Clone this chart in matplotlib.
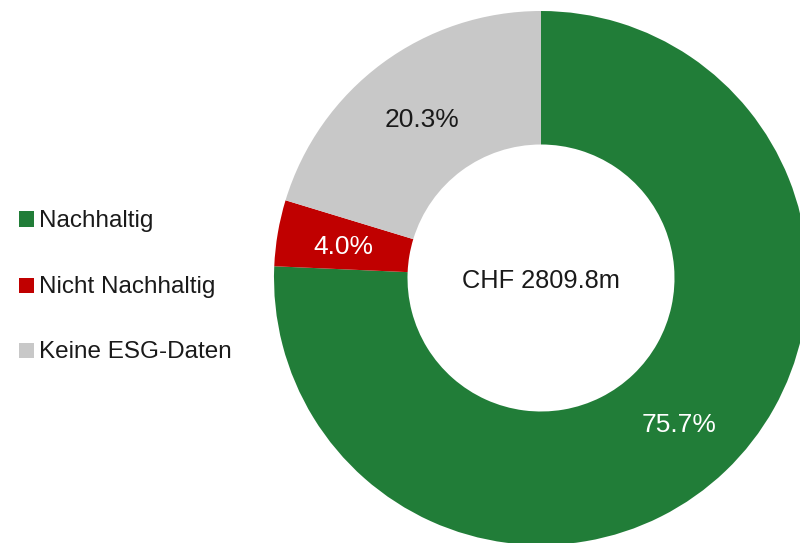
import matplotlib
matplotlib.use("Agg")
import matplotlib.pyplot as plt
from matplotlib.patches import Rectangle

categories = ["Nachhaltig", "Nicht Nachhaltig", "Keine ESG-Daten"]
values = [75.7, 4.0, 20.3]
colors = ["#217d38", "#c00000", "#c8c8c8"]
pct_colors = ["white", "white", "#1a1a1a"]
center_label = "CHF 2809.8m"

plt.rcParams['font.family'] = ['Liberation Sans', 'DejaVu Sans']

W, H = 800, 543
fig = plt.figure(figsize=(W / 100, H / 100), dpi=100)
cx, cy, R = 541, 278, 267
ax = fig.add_axes([(cx - R) / W, (H - cy - R) / H, 2 * R / W, 2 * R / H])

wedges, texts, autotexts = ax.pie(
    values, colors=colors, startangle=90, counterclock=False, radius=1,
    wedgeprops=dict(width=0.5, edgecolor='none'),
    autopct='%1.1f%%', pctdistance=0.75,
    textprops=dict(fontsize=19))
for t, c in zip(autotexts, pct_colors):
    t.set_color(c)
    t.set_va('center_baseline')
ax.text(0, 0, center_label, ha='center', va='center_baseline', fontsize=18.3, color='#1a1a1a')
ax.set_xlim(-1, 1)
ax.set_ylim(-1, 1)
ax.set_aspect('equal')
ax.axis('off')

# legend
ys = [219, 285, 350]
for cat, col, y in zip(categories, colors, ys):
    fig.patches.append(Rectangle((19 / W, (H - y - 7.5) / H), 15 / W, 15 / H,
                                 transform=fig.transFigure, facecolor=col, edgecolor='none'))
    fig.text(39 / W, (H - y) / H, cat, ha='left', va='center_baseline', fontsize=17.5, color='#1a1a1a')

fig.savefig("out.png", dpi=100)
